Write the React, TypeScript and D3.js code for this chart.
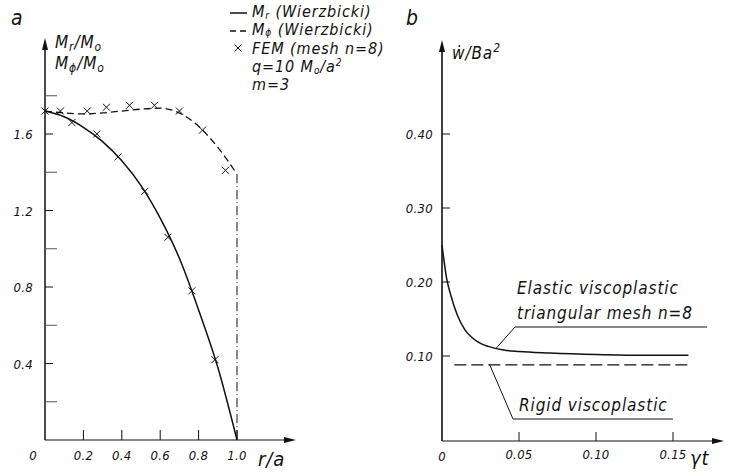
import React from 'react';
import * as d3 from 'd3';

// panel a: bending moments along the radius
const rGrid = [0, 0.1, 0.2, 0.3, 0.4, 0.5, 0.6, 0.7, 0.8, 0.9, 1.0];
const mrWierzbicki = [1.72, 1.69, 1.635, 1.56, 1.46, 1.33, 1.16, 0.95, 0.68, 0.38, 0.0];
const mphiWierzbicki = [1.72, 1.71, 1.705, 1.71, 1.72, 1.73, 1.735, 1.71, 1.64, 1.53, 1.39];
const femMrR = [0, 0.14, 0.27, 0.38, 0.52, 0.64, 0.765, 0.885];
const femMr = [1.72, 1.66, 1.60, 1.48, 1.30, 1.06, 0.78, 0.42];
const femMphiR = [0.08, 0.22, 0.32, 0.44, 0.57, 0.70, 0.82, 0.94];
const femMphi = [1.72, 1.72, 1.74, 1.75, 1.75, 1.72, 1.62, 1.41];
const leftYTicks = [0.4, 0.8, 1.2, 1.6];
const leftYMinor = [0.2, 0.6, 1.0, 1.4, 1.8];
const leftXTicks = [0.2, 0.4, 0.6, 0.8, 1.0];

// panel b: deflection rate vs time
const elasticT = [0, 0.003, 0.006, 0.01, 0.015, 0.02, 0.025, 0.03, 0.04, 0.05, 0.07, 0.1, 0.13, 0.16];
const elasticW = [0.25, 0.205, 0.18, 0.155, 0.135, 0.124, 0.117, 0.113, 0.108, 0.106, 0.104, 0.102, 0.101, 0.101];
const rigidT = [0.008, 0.16];
const rigidW = [0.088, 0.088];
const rightYTicks = [0.1, 0.2, 0.3, 0.4];
const rightXTicks = [0.05, 0.1, 0.15];

const font = "'DejaVu Sans Condensed', 'DejaVu Sans', sans-serif";
const ink = '#111';

function Arrow({ x, y, dir }: { x: number; y: number; dir: 'up' | 'right' }) {
  const p = dir === 'up'
    ? `M${x},${y} L${x - 3},${y + 12} L${x + 3},${y + 12} Z`
    : `M${x},${y} L${x - 12},${y - 3} L${x - 12},${y + 3} Z`;
  return <path d={p} fill={ink} />;
}

function Cross({ x, y }: { x: number; y: number }) {
  const s = 3.5;
  return (
    <path d={`M${x - s},${y - s} L${x + s},${y + s} M${x - s},${y + s} L${x + s},${y - s}`} stroke={ink} strokeWidth={1} />
  );
}

export default function App() {
  // left panel scales
  const xL = d3.scaleLinear().domain([0, 1]).range([45, 237]);
  const yL = d3.scaleLinear().domain([0, 1.6]).range([440, 134]);
  const axisLeftX = 45;
  const baseL = 440;

  const lineL = d3.line<number>().x((_, i) => xL(rGrid[i])).y((d) => yL(d)).curve(d3.curveMonotoneX);

  // right panel scales
  const xR = d3.scaleLinear().domain([0, 0.15]).range([442, 673]);
  const yR = d3.scaleLinear().domain([0, 0.4]).range([430, 134]);
  const axisRightX = 442;
  const baseR = 441;

  const lineR = d3.line<number>().x((_, i) => xR(elasticT[i])).y((d) => yR(d)).curve(d3.curveMonotoneX);
  const lineRigid = d3.line<number>().x((_, i) => xR(rigidT[i])).y((d) => yR(d));

  const tickFont = { fontFamily: font, fontStyle: 'italic', fontSize: 13, fill: ink, letterSpacing: 0.3 } as const;
  const labelFont = { fontFamily: font, fontStyle: 'italic', fontSize: 16, fill: ink, letterSpacing: 0.9 } as const;

  // leader line targets on curves
  const elasticLeadX = xR(0.035);
  const elasticLeadY = yR(0.110);
  const rigidLeadX = xR(0.031);
  const rigidLeadY = yR(rigidW[0]);

  return (
    <svg width={733} height={476} style={{ position: 'absolute', left: 0, top: 0, background: '#fff' }}>
      {/* ---------- panel a ---------- */}
      <text x={11} y={25} style={{ ...labelFont, fontSize: 21 }}>a</text>
      <line x1={axisLeftX} y1={baseL} x2={axisLeftX} y2={42} stroke={ink} strokeWidth={1.5} />
      <Arrow x={axisLeftX} y={38} dir="up" />
      <line x1={axisLeftX} y1={baseL} x2={292} y2={baseL} stroke={ink} strokeWidth={1.2} />
      <Arrow x={296} y={baseL} dir="right" />

      {leftYTicks.map((t) => (
        <g key={t}>
          <line x1={axisLeftX} x2={axisLeftX + 8} y1={yL(t)} y2={yL(t)} stroke={ink} />
          <text x={33} y={yL(t) + 5} textAnchor="end" style={tickFont}>{t.toFixed(1)}</text>
        </g>
      ))}
      {leftYMinor.map((t) => (
        <line key={t} x1={axisLeftX} x2={axisLeftX + 12} y1={yL(t)} y2={yL(t)} stroke="#555" />
      ))}
      {leftXTicks.map((t) => (
        <g key={t}>
          <line x1={xL(t)} x2={xL(t)} y1={baseL} y2={baseL - 10} stroke={ink} />
          <text x={xL(t)} y={baseL + 20} textAnchor="middle" style={tickFont}>{t.toFixed(1)}</text>
        </g>
      ))}
      <text x={33} y={baseL + 20} textAnchor="middle" style={tickFont}>0</text>
      <text x={258} y={baseL + 26} style={{ ...labelFont, fontSize: 20 }}>r/a</text>

      <text x={55} y={48} style={{ ...labelFont, fontSize: 17 }}>
        M<tspan dy={3} fontSize={12}>r</tspan><tspan dy={-3}>/M</tspan><tspan dy={3} fontSize={12}>o</tspan>
      </text>
      <text x={55} y={69} style={{ ...labelFont, fontSize: 17 }}>
        M<tspan dy={3} fontSize={12}>ϕ</tspan><tspan dy={-3}>/M</tspan><tspan dy={3} fontSize={12}>o</tspan>
      </text>

      <path d={lineL(mrWierzbicki) || ''} fill="none" stroke={ink} strokeWidth={1.5} />
      <path d={lineL(mphiWierzbicki) || ''} fill="none" stroke={ink} strokeWidth={1.3} strokeDasharray="7,4" />
      <line x1={xL(1)} x2={xL(1)} y1={yL(mphiWierzbicki[mphiWierzbicki.length - 1])} y2={baseL}
        stroke={ink} strokeWidth={1} strokeDasharray="9,3,1,3" />
      {femMrR.map((r, i) => <Cross key={'a' + i} x={xL(r)} y={yL(femMr[i])} />)}
      {femMphiR.map((r, i) => <Cross key={'b' + i} x={xL(r)} y={yL(femMphi[i])} />)}

      {/* legend */}
      <line x1={230} x2={247} y1={13} y2={13} stroke={ink} strokeWidth={1.5} />
      <line x1={230} x2={247} y1={31} y2={31} stroke={ink} strokeWidth={1.3} strokeDasharray="6,4" />
      <Cross x={238} y={48} />
      <text x={252} y={17} style={labelFont}>
        M<tspan dy={2} fontSize={10}>r</tspan><tspan dy={-2}> (Wierzbicki)</tspan>
      </text>
      <text x={252} y={35} style={labelFont}>
        M<tspan dy={1} fontSize={10}>ϕ</tspan><tspan dy={-1}> (Wierzbicki)</tspan>
      </text>
      <text x={252} y={54} style={labelFont}>FEM (mesh n=8)</text>
      <text x={252} y={72} style={labelFont}>
        q=10 M<tspan dy={2} fontSize={10}>o</tspan><tspan dy={-2}>/a</tspan><tspan dy={-6} fontSize={10}>2</tspan>
      </text>
      <text x={252} y={90} style={labelFont}>m=3</text>

      {/* ---------- panel b ---------- */}
      <text x={406} y={25} style={{ ...labelFont, fontSize: 21 }}>b</text>
      <line x1={axisRightX} y1={baseR} x2={axisRightX} y2={46} stroke={ink} strokeWidth={1.6} />
      <Arrow x={axisRightX} y={40} dir="up" />
      <line x1={axisRightX} y1={baseR} x2={718} y2={baseR} stroke={ink} strokeWidth={1.2} />
      <Arrow x={724} y={baseR} dir="right" />
      <text x={452} y={59} style={{ ...labelFont, fontSize: 17 }}>
        ẇ/Ba<tspan dy={-7} fontSize={12}>2</tspan>
      </text>

      {rightYTicks.map((t) => (
        <g key={t}>
          <line x1={axisRightX} x2={axisRightX + 8} y1={yR(t)} y2={yR(t)} stroke={ink} />
          <text x={433} y={yR(t) + 5} textAnchor="end" style={tickFont}>{t.toFixed(2)}</text>
        </g>
      ))}
      {rightXTicks.map((t) => (
        <g key={t}>
          <line x1={xR(t)} x2={xR(t)} y1={baseR} y2={baseR - 9} stroke={ink} />
          <text x={xR(t)} y={baseR + 18} textAnchor="middle" style={tickFont}>{t.toFixed(2)}</text>
        </g>
      ))}
      <text x={442} y={baseR + 20} textAnchor="middle" style={tickFont}>0</text>
      <text x={690} y={baseR + 24} style={{ ...labelFont, fontSize: 20 }}>γt</text>

      <path d={lineR(elasticW) || ''} fill="none" stroke={ink} strokeWidth={1.5} />
      <path d={lineRigid(rigidW) || ''} fill="none" stroke={ink} strokeWidth={1.4} strokeDasharray="12,5" />

      <text x={517} y={294} style={{ ...labelFont, fontSize: 17 }}>Elastic viscoplastic</text>
      <text x={517} y={319} style={{ ...labelFont, fontSize: 17 }}>triangular mesh n=8</text>
      <path d={`M${elasticLeadX},${elasticLeadY} L515,327 L707,327`} fill="none" stroke={ink} strokeWidth={1} />

      <text x={519} y={411} style={{ ...labelFont, fontSize: 17 }}>Rigid viscoplastic</text>
      <path d={`M${rigidLeadX},${rigidLeadY} L513,419 L673,419`} fill="none" stroke={ink} strokeWidth={1} />
    </svg>
  );
}
